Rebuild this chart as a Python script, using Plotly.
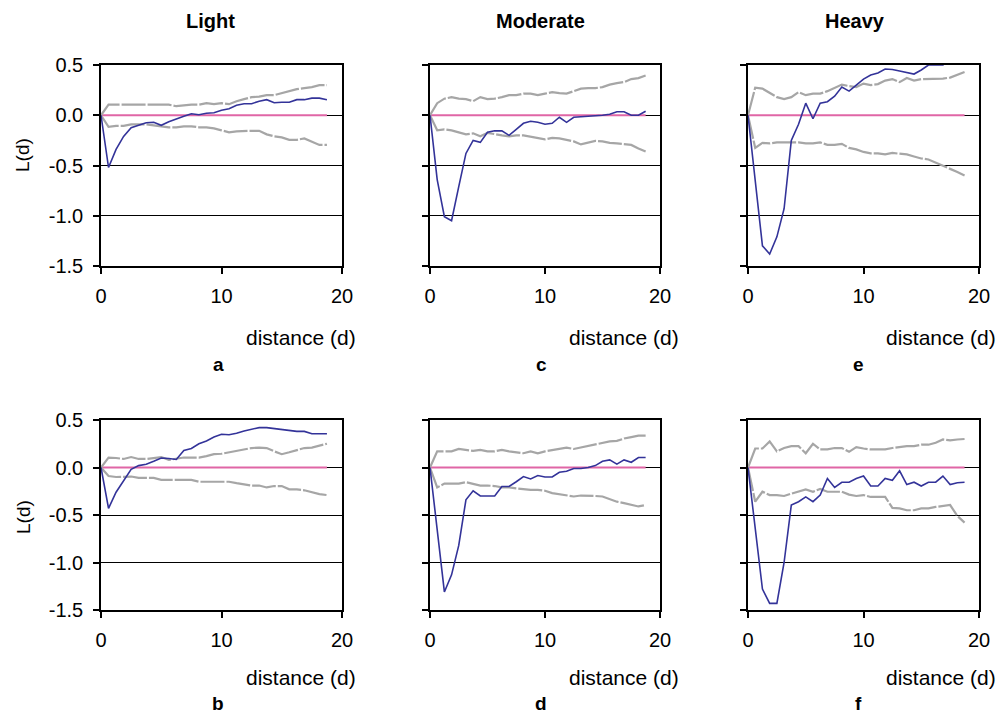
import plotly.graph_objects as go

distance = [0, 0.625, 1.25, 1.875, 2.5, 3.125, 3.75, 4.375, 5, 5.625, 6.25, 6.875, 7.5, 8.125,
            8.75, 9.375, 10, 10.625, 11.25, 11.875, 12.5, 13.125, 13.75, 14.375, 15, 15.625,
            16.25, 16.875, 17.5, 18.125, 18.75]
csr_line = [0.0] * 31

a_obs = [0, -0.52, -0.34, -0.21, -0.125, -0.10, -0.075, -0.07, -0.10, -0.065, -0.035, -0.01, 0.015, 0.005, 0.02, 0.025, 0.05, 0.065, 0.10, 0.115, 0.115, 0.14, 0.155, 0.125, 0.13, 0.13, 0.155, 0.155, 0.17, 0.17, 0.155]
a_up = [0, 0.105, 0.105, 0.105, 0.105, 0.105, 0.105, 0.105, 0.105, 0.105, 0.09, 0.10, 0.105, 0.105, 0.12, 0.11, 0.12, 0.11, 0.14, 0.16, 0.18, 0.185, 0.20, 0.20, 0.22, 0.245, 0.26, 0.27, 0.28, 0.30, 0.30]
a_lo = [0, -0.115, -0.105, -0.105, -0.09, -0.09, -0.09, -0.10, -0.11, -0.12, -0.12, -0.11, -0.11, -0.12, -0.12, -0.13, -0.15, -0.17, -0.16, -0.155, -0.155, -0.155, -0.19, -0.21, -0.22, -0.245, -0.245, -0.23, -0.265, -0.295, -0.295]

c_obs = [0, -0.64, -1.01, -1.05, -0.71, -0.38, -0.25, -0.27, -0.17, -0.155, -0.155, -0.20, -0.14, -0.08, -0.06, -0.07, -0.09, -0.08, -0.02, -0.07, -0.02, -0.015, -0.015, -0.01, 0.0, 0.01, 0.035, 0.035, 0.0, 0.0, 0.04]
c_up = [0, 0.12, 0.165, 0.18, 0.165, 0.16, 0.14, 0.18, 0.16, 0.165, 0.18, 0.20, 0.20, 0.215, 0.215, 0.20, 0.215, 0.23, 0.22, 0.215, 0.24, 0.265, 0.27, 0.27, 0.28, 0.305, 0.32, 0.33, 0.36, 0.37, 0.395]
c_lo = [0, -0.15, -0.14, -0.15, -0.17, -0.19, -0.18, -0.21, -0.175, -0.19, -0.20, -0.21, -0.20, -0.20, -0.215, -0.23, -0.24, -0.225, -0.23, -0.245, -0.26, -0.29, -0.275, -0.255, -0.26, -0.275, -0.28, -0.285, -0.295, -0.33, -0.36]

e_obs = [0, -0.68, -1.30, -1.38, -1.21, -0.93, -0.25, -0.09, 0.12, -0.035, 0.12, 0.135, 0.19, 0.28, 0.24, 0.30, 0.36, 0.40, 0.42, 0.46, 0.455, 0.44, 0.425, 0.41, 0.45, 0.50, 0.50, 0.50, 0.55, 0.60, 0.65]
e_up = [0, 0.275, 0.265, 0.22, 0.18, 0.16, 0.18, 0.23, 0.20, 0.215, 0.215, 0.24, 0.27, 0.305, 0.29, 0.28, 0.315, 0.30, 0.31, 0.345, 0.36, 0.33, 0.37, 0.345, 0.36, 0.36, 0.36, 0.365, 0.375, 0.40, 0.43]
e_lo = [0, -0.325, -0.275, -0.28, -0.27, -0.27, -0.275, -0.27, -0.28, -0.28, -0.27, -0.295, -0.295, -0.285, -0.325, -0.34, -0.365, -0.38, -0.38, -0.39, -0.375, -0.38, -0.39, -0.41, -0.43, -0.44, -0.47, -0.50, -0.53, -0.565, -0.60]

b_obs = [0, -0.43, -0.26, -0.14, -0.02, 0.02, 0.035, 0.065, 0.10, 0.095, 0.085, 0.18, 0.20, 0.25, 0.28, 0.32, 0.35, 0.345, 0.36, 0.385, 0.405, 0.42, 0.42, 0.41, 0.40, 0.395, 0.38, 0.38, 0.355, 0.355, 0.355]
b_up = [0, 0.105, 0.10, 0.09, 0.11, 0.09, 0.09, 0.10, 0.11, 0.08, 0.09, 0.105, 0.105, 0.105, 0.12, 0.14, 0.145, 0.16, 0.18, 0.195, 0.205, 0.21, 0.205, 0.17, 0.14, 0.16, 0.18, 0.205, 0.21, 0.23, 0.25]
b_lo = [0, -0.09, -0.10, -0.095, -0.095, -0.11, -0.11, -0.11, -0.13, -0.13, -0.13, -0.13, -0.13, -0.15, -0.15, -0.15, -0.15, -0.15, -0.165, -0.175, -0.19, -0.19, -0.21, -0.195, -0.195, -0.23, -0.23, -0.24, -0.26, -0.28, -0.29]

d_obs = [0, -0.66, -1.31, -1.13, -0.82, -0.34, -0.245, -0.30, -0.30, -0.30, -0.20, -0.20, -0.15, -0.095, -0.12, -0.085, -0.10, -0.10, -0.05, -0.04, -0.01, -0.01, 0.0, 0.02, 0.065, 0.08, 0.035, 0.08, 0.055, 0.105, 0.105]
d_up = [0, 0.17, 0.17, 0.17, 0.195, 0.185, 0.175, 0.185, 0.17, 0.17, 0.185, 0.17, 0.16, 0.15, 0.17, 0.15, 0.17, 0.185, 0.195, 0.21, 0.195, 0.21, 0.23, 0.24, 0.255, 0.275, 0.28, 0.305, 0.32, 0.335, 0.335]
d_lo = [0, -0.21, -0.17, -0.17, -0.17, -0.155, -0.17, -0.19, -0.19, -0.195, -0.21, -0.21, -0.22, -0.23, -0.235, -0.235, -0.245, -0.27, -0.28, -0.29, -0.305, -0.295, -0.295, -0.30, -0.305, -0.335, -0.36, -0.375, -0.395, -0.41, -0.395]

f_obs = [0, -0.63, -1.28, -1.43, -1.43, -1.0, -0.395, -0.36, -0.31, -0.36, -0.29, -0.115, -0.21, -0.155, -0.155, -0.115, -0.09, -0.195, -0.195, -0.115, -0.135, -0.035, -0.18, -0.155, -0.195, -0.155, -0.155, -0.09, -0.18, -0.16, -0.155]
f_up = [0, 0.20, 0.20, 0.275, 0.17, 0.205, 0.225, 0.225, 0.15, 0.25, 0.19, 0.19, 0.205, 0.205, 0.165, 0.215, 0.20, 0.19, 0.19, 0.19, 0.205, 0.215, 0.225, 0.225, 0.24, 0.24, 0.26, 0.295, 0.285, 0.295, 0.30]
f_lo = [0, -0.36, -0.255, -0.29, -0.29, -0.30, -0.275, -0.255, -0.23, -0.255, -0.225, -0.255, -0.255, -0.255, -0.285, -0.30, -0.29, -0.31, -0.31, -0.31, -0.425, -0.43, -0.45, -0.45, -0.43, -0.43, -0.415, -0.405, -0.395, -0.51, -0.58]

column_titles = ["Light", "Moderate", "Heavy"]
panel_letters = [["a", "c", "e"], ["b", "d", "f"]]
y_ticks = [0.5, 0.0, -0.5, -1.0, -1.5]
x_ticks = [0, 10, 20]

panels = [
    [(a_obs, a_up, a_lo), (c_obs, c_up, c_lo), (e_obs, e_up, e_lo)],
    [(b_obs, b_up, b_lo), (d_obs, d_up, d_lo), (f_obs, f_up, f_lo)],
]

W, H = 998, 713
col_px = [(101, 342), (430, 660), (748, 979)]
row_px = [(65, 266), (420, 610)]
xtitle_cx = [301, 624, 941]
xtitle_y = [337, 677]
letter_cx = [218, 541, 858]
letter_y = [364, 703]
title_cx = [210, 540, 855]
ylab_y = [155, 517]

FONT = "Liberation Sans, Arial, sans-serif"
GRAY = "#a6a6a6"
NAVY = "#333399"
PINK = "#e066a6"

fig = go.Figure()
layout = dict(width=W, height=H, margin=dict(l=0, r=0, t=0, b=0, autoexpand=False),
              template="none",
              paper_bgcolor="white", plot_bgcolor="white", showlegend=False,
              font=dict(family=FONT, size=19, color="black"))
annotations = []

k = 0
for r in range(2):
    for c in range(3):
        k += 1
        xa = "x" if k == 1 else f"x{k}"
        ya = "y" if k == 1 else f"y{k}"
        obs, up, lo = panels[r][c]
        fig.add_trace(go.Scatter(x=distance, y=csr_line, mode="lines", xaxis=xa, yaxis=ya,
                                 line=dict(color=PINK, width=2)))
        fig.add_trace(go.Scatter(x=distance, y=up, mode="lines", xaxis=xa, yaxis=ya,
                                 line=dict(color=GRAY, width=2.2, dash="24px,2px")))
        fig.add_trace(go.Scatter(x=distance, y=lo, mode="lines", xaxis=xa, yaxis=ya,
                                 line=dict(color=GRAY, width=2.2, dash="24px,2px")))
        fig.add_trace(go.Scatter(x=distance, y=obs, mode="lines", xaxis=xa, yaxis=ya,
                                 line=dict(color=NAVY, width=1.6)))
        x0, x1 = col_px[c]
        y0, y1 = row_px[r]
        layout["xaxis" if k == 1 else f"xaxis{k}"] = dict(
            domain=[x0 / W, x1 / W], range=[0, 20], anchor=ya, automargin=False,
            tickvals=x_ticks, ticktext=[str(v) for v in x_ticks],
            showline=True, linecolor="black", linewidth=1.5, mirror=True,
            ticks="outside", ticklen=6, tickcolor="black", tickwidth=1.5,
            ticklabelstandoff=5,
            showgrid=False, zeroline=False, tickfont=dict(size=20))
        layout["yaxis" if k == 1 else f"yaxis{k}"] = dict(
            domain=[1 - y1 / H, 1 - y0 / H], range=[-1.5, 0.5], anchor=xa, automargin=False,
            tickvals=y_ticks, ticktext=[f"{v:.1f}" for v in y_ticks],
            showticklabels=(c == 0),
            showline=True, linecolor="black", linewidth=1.5, mirror=True,
            ticks="outside", ticklen=6, tickcolor="black", tickwidth=1.5,
            ticklabelstandoff=6,
            showgrid=True, gridcolor="black", gridwidth=1, zeroline=False,
            tickfont=dict(size=20))
        annotations.append(dict(text="distance (d)", xref="paper", yref="paper",
                                x=xtitle_cx[c] / W, y=1 - xtitle_y[r] / H,
                                xanchor="center", yanchor="middle", showarrow=False,
                                font=dict(size=21)))
        annotations.append(dict(text=f"<b>{panel_letters[r][c]}</b>", xref="paper", yref="paper",
                                x=letter_cx[c] / W, y=1 - letter_y[r] / H,
                                xanchor="center", yanchor="middle", showarrow=False,
                                font=dict(size=19)))

for c in range(3):
    annotations.append(dict(text=f"<b>{column_titles[c]}</b>", xref="paper", yref="paper",
                            x=title_cx[c] / W, y=1 - 21 / H, xanchor="center", yanchor="middle",
                            showarrow=False, font=dict(size=20)))
for r in range(2):
    annotations.append(dict(text="L(d)", xref="paper", yref="paper", x=23 / W, y=1 - ylab_y[r] / H,
                            xanchor="center", yanchor="middle", textangle=-90, showarrow=False,
                            font=dict(size=19)))

layout["annotations"] = annotations
fig.update_layout(**layout)
fig.write_html("out.html", config={"displayModeBar": False},
               post_script="document.body.style.margin='0px';document.body.style.overflow='hidden';")
